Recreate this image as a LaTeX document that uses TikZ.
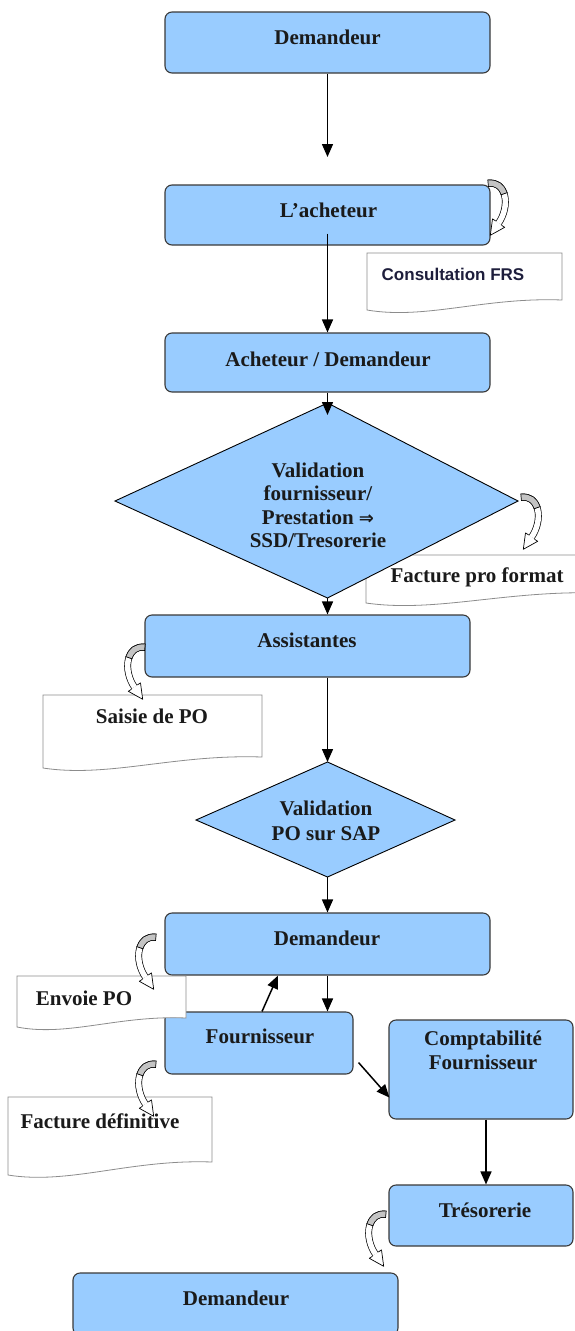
\documentclass[tikz,border=0pt]{standalone}
\usepackage{fontspec}
\setmainfont{Liberation Serif}
\newfontfamily\docsans{Liberation Sans}
\newfontfamily\symsans{DejaVu Sans}
\usetikzlibrary{arrows.meta,calc}

\definecolor{boxblue}{HTML}{99CCFF}
\definecolor{boxedge}{HTML}{3A3A3A}
\definecolor{docedge}{HTML}{8C8C8C}
\definecolor{lobe}{HTML}{C4C4C4}
\definecolor{inktxt}{HTML}{1A1A1A}
\definecolor{navytxt}{HTML}{1E1E3C}

\tikzset{
  box/.style={draw=boxedge, line width=1.1pt, fill=boxblue, rounded corners=7pt, inner sep=0pt},
  dia/.style={draw=black, line width=0.9pt, fill=boxblue, line join=miter},
  docbox/.style={draw=docedge, line width=0.8pt, fill=white},
  lbl/.style={font=\fontsize{21}{23.5}\selectfont\bfseries, text=inktxt, align=center, inner sep=0pt},
  conn/.style={draw=black, line width=1.5pt, -{Triangle[length=13pt,width=11pt]}},
  % curved block arrow: grey back lobe, white ribbon, open arrow head
  pics/carr/.style={code={
    \draw[line width=0.7pt, double=white, double distance=5.5pt]
      (2,4) .. controls (20,2) and (23,26) .. (12,42);
    \draw[line width=0.7pt, double=lobe, double distance=5.5pt]
      (2,4) .. controls (10.1,3.1) and (15.16,7.47) .. (17.28,14);
    \draw[line width=0.7pt] (2.34,7.4) -- (1.66,0.6);
    \draw[line width=0.7pt] (20.5,12.9) -- (14.0,15.1);
    \filldraw[line width=0.7pt, fill=white, line join=round]
      (14.8,44) -- (17.8,46) -- (4.1,53.6) -- (6.2,38) -- (9.2,40);
  }}
}

\begin{document}
\begin{tikzpicture}[x=1pt, y=-1pt]
\useasboundingbox (0,0) rectangle (574,1331);
\fill[white] (0,0) rectangle (574,1331);

% document sheet behind the first decision
\draw[docbox] (366,603) -- (366,555) -- (600,555) -- (600,593)
  .. controls (506,590) and (436,613) .. (366,603) -- cycle;

% process boxes
\node[box, minimum width=325pt, minimum height=61pt] (dem1)   at (327.5,42.5)  {};
\node[box, minimum width=325pt, minimum height=60pt] (ach)    at (327.5,215)   {};
\node[box, minimum width=325pt, minimum height=59pt] (achdem) at (327.5,362.5) {};
\node[box, minimum width=325pt, minimum height=62pt] (assist) at (307.5,646)   {};
\node[box, minimum width=325pt, minimum height=62pt] (dem2)   at (327.5,944)   {};
\node[box, minimum width=188pt, minimum height=62pt] (fourn)  at (259,1043)    {};
\node[box, minimum width=184pt, minimum height=99pt] (compta) at (481,1069.5)  {};
\node[box, minimum width=184pt, minimum height=61pt] (treso)  at (481,1215.5)  {};
\node[box, minimum width=325pt, minimum height=62pt] (dem3)   at (235.5,1304)  {};

% decisions
\coordinate (v1n) at (327.5,403);
\coordinate (v1e) at (518,501);
\coordinate (v1s) at (327.5,598);
\coordinate (v1w) at (115,501);
\coordinate (v1in) at (327.5,415);
\draw[dia] (v1n) -- (v1e) -- (v1s) -- (v1w) -- cycle;

\coordinate (v2n) at (327.5,762);
\coordinate (v2e) at (455,820);
\coordinate (v2s) at (327.5,877);
\coordinate (v2w) at (196,820);
\draw[dia] (v2n) -- (v2e) -- (v2s) -- (v2w) -- cycle;

% document sheets
\draw[docbox] (367,310) -- (367,253) -- (562,253) -- (562,300)
  .. controls (484,297) and (425.5,320) .. (367,310) -- cycle;
\draw[docbox] (43,768) -- (43,695) -- (262,695) -- (262,757)
  .. controls (174.4,754) and (108.7,778) .. (43,768) -- cycle;
\draw[docbox] (17,1027) -- (17,976) -- (186,976) -- (186,1018)
  .. controls (118.4,1015) and (67.7,1037) .. (17,1027) -- cycle;
\draw[docbox] (8,1175) -- (8,1097) -- (212,1097) -- (212,1162)
  .. controls (130.4,1159) and (69.2,1185) .. (8,1175) -- cycle;

% labels
\node[lbl, anchor=base] (dem1-l)   at (327.5,44)  {Demandeur};
\node[lbl, anchor=base] (ach-l)    at (328.5,217) {L’acheteur};
\node[lbl, anchor=base] (achdem-l) at (328,366)   {Acheteur / Demandeur};
\node[lbl, anchor=north] (v1-l)    at (318,462.7)
  {Validation\\fournisseur/\\Prestation {\symsans\fontsize{18}{20}\selectfont ⇒}\\SSD/Tresorerie};
\node[lbl, anchor=base] (assist-l) at (307,647)   {Assistantes};
\node[lbl, anchor=north, font=\fontsize{21}{25}\selectfont\bfseries] (v2-l) at (326,800.7)
  {Validation\\PO sur SAP};
\node[lbl, anchor=base] (dem2-l)   at (327,945)   {Demandeur};
\node[lbl, anchor=base] (fourn-l)  at (260,1043)  {Fournisseur};
\node[lbl, anchor=north] (compta-l) at (483,1030.7) {Comptabilité\\Fournisseur};
\node[lbl, anchor=base] (treso-l)  at (485,1217)  {Trésorerie};
\node[lbl, anchor=base] (dem3-l)   at (236,1305)  {Demandeur};

\node[anchor=base, inner sep=0pt, font=\docsans\bfseries\fontsize{17}{20}\selectfont, text=navytxt]
  (frs-l) at (453,280) {Consultation FRS};
\node[lbl, anchor=base] (pro-l)    at (477,582)   {Facture pro format};
\node[lbl, anchor=base] (po-l)     at (152,723)   {Saisie de PO};
\node[lbl, anchor=base] (envoi-l)  at (84,1005)   {Envoie PO};
\node[lbl, anchor=base] (fdef-l)   at (100,1128)  {Facture définitive};

% curved block arrows
\pic[scale=1.05] at (486,179) {carr};
\pic[scale=1.05] at (519,493) {carr};
\pic[xscale=-1.05, yscale=1.05] at (147,643) {carr};
\pic[xscale=-1.05, yscale=1.05] at (158,933) {carr};
\pic[xscale=-1.05, yscale=1.05] at (158,1060) {carr};
\pic[xscale=-1.05, yscale=1.05] at (388,1210) {carr};

% connectors
\coordinate (dem1end) at (327.5,157);
\draw[conn] (dem1.south) -- (dem1end);
\draw[conn] ([yshift=12pt]ach.south) -- (achdem.north);
\draw[conn] (achdem.south) -- (v1in);
\draw[conn] (v1s) -- (v1s |- assist.north);
\draw[conn] (assist.south -| v2n) -- (v2n);
\draw[conn] (v2s) -- (dem2.north);
\draw[conn] (dem2.south) -- (dem2.south |- fourn.north);
\draw[conn] ([xshift=3pt]fourn.north) -- ([xshift=-49.5pt]dem2.south);
\draw[conn] ($(fourn.south east)+(5,-12)$) -- ($(compta.south west)+(1,-22)$);
\draw[conn] ([xshift=5pt]compta.south) -- ([xshift=5pt]compta.south |- treso.north);
\end{tikzpicture}
\end{document}
